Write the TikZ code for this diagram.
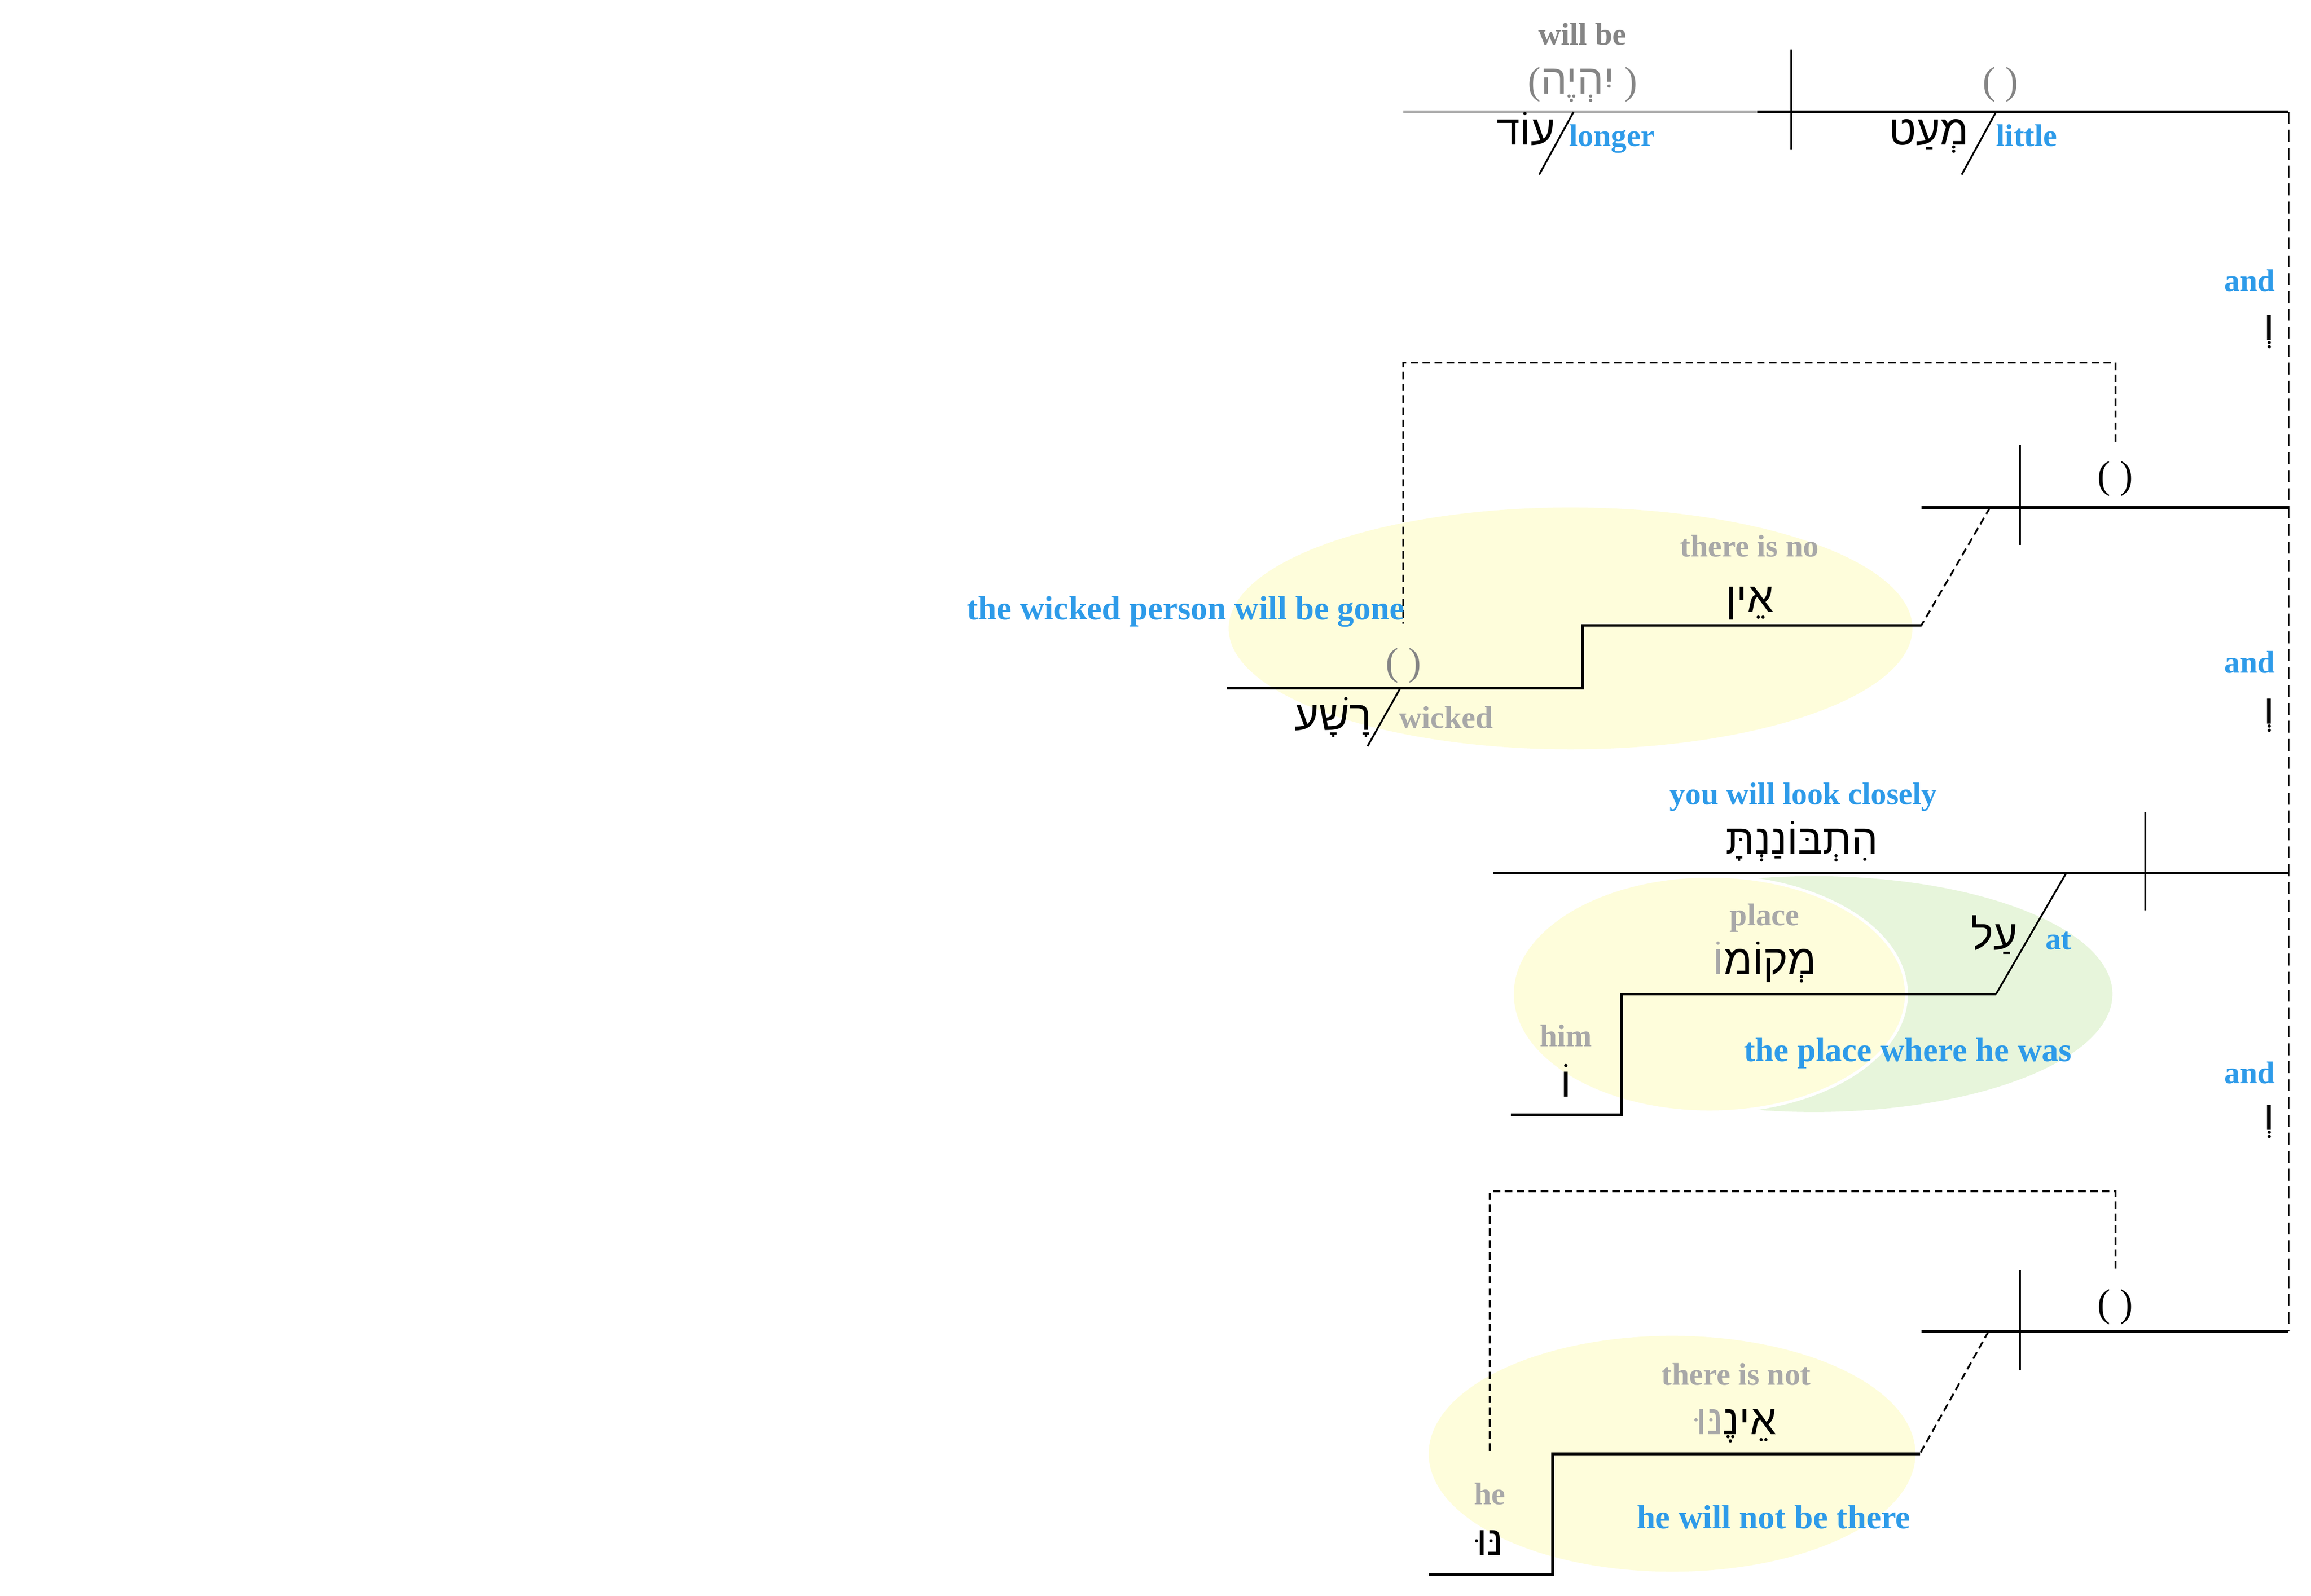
\documentclass[tikz,border=0pt]{standalone}
\usepackage{fontspec}
\setmainfont{Liberation Serif}
\newfontfamily\hebfont[Script=Hebrew]{Liberation Sans}
\TeXXeTstate=1
\usetikzlibrary{calc,positioning}

\definecolor{glossblue}{HTML}{2E9BE9}
\definecolor{hintgray}{HTML}{A8A8A8}
\definecolor{impgray}{HTML}{858585}
\definecolor{rulegray}{HTML}{AAAAAA}
\definecolor{noteyellow}{HTML}{FEFDDB}
\definecolor{notegreen}{HTML}{E7F5DB}

\newcommand{\hw}[1]{{\hebfont\beginR #1\endR}}
\newcommand{\pr}[1]{{\rmfamily\mdseries\fontsize{26}{30}\selectfont #1}}

\begin{document}
\begin{tikzpicture}[x=1pt, y=-1pt,
        mainline/.style={line width=1.8pt},
        divline/.style={line width=1.2pt},
        link/.style={line width=1.2pt, dash pattern=on 5pt off 3pt},
        andline/.style={line width=1.2pt, dash pattern=on 8pt off 4pt},
        heb/.style={inner sep=0pt, anchor=base, font=\hebfont\fontsize{28}{32}\selectfont},
        phrase/.style={inner sep=0pt, anchor=base, text=glossblue, font=\bfseries\fontsize{22.5}{26}\selectfont},
        gloss/.style={inner sep=0pt, anchor=base, text=glossblue, font=\bfseries\fontsize{21}{25}\selectfont},
        hint/.style={inner sep=0pt, anchor=base, text=hintgray, font=\bfseries\fontsize{21}{25}\selectfont},
        ]
        \useasboundingbox (0,0) rectangle (1548,1069.3);

        \fill[noteyellow] (1052,421) ellipse [x radius=229pt, y radius=81pt];
        \fill[notegreen] (1215,666) ellipse [x radius=200pt, y radius=79pt];
        \filldraw[fill=noteyellow, draw=white, line width=2pt] (1145,666) ellipse [x radius=132pt, y radius=79pt];
        \fill[noteyellow] (1120,974) ellipse [x radius=163pt, y radius=79pt];

        % first clause
        \coordinate (a1) at (940,75);
        \coordinate (a2) at (1177,75);
        \coordinate (a3) at (1533,75);
        \coordinate (a4) at (1200,33);
        \coordinate (a5) at (1200,100);
        \draw[mainline, rulegray] (a1) -- (a2);
        \draw[mainline] (a2) -- (a3);
        \draw[divline] (a4) -- (a5);
        \coordinate (od-t) at (1054,75);
        \coordinate (od-b) at (1031,117);
        \coordinate (meat-t) at (1337,75);
        \coordinate (meat-b) at (1314,117);
        \draw[divline] (od-t) -- (od-b);
        \draw[divline] (meat-t) -- (meat-b);

        \node (willbe) [hint, text=impgray] at (1060,30) {will be};
        \node (yihyeh) [heb, text=impgray] at (1060,63) {\pr{(}\hw{יִהְיֶה}\pr{ )}};
        \node (empty1) [heb, text=impgray] at (1340,63) {\pr{( )}};
        \node (od) [heb] at (1022,97) {\hw{עוֹד}};
        \node (longer) [gloss, anchor=base west] at (1051,98) {longer};
        \node (meat) [heb] at (1292,97) {\hw{מְעַט}};
        \node (little) [gloss, anchor=base west] at (1337,98) {little};

        % conjunctions
        \coordinate (c1) at (1533,892);
        \draw[andline] (a3) -- (c1);
        \node (and1) [gloss] at (1507,195) {and};
        \node (ve1) [heb] at (1520,228) {\hw{וְ}};
        \node (and2) [gloss] at (1507,451) {and};
        \node (ve2) [heb] at (1520,485) {\hw{וְ}};
        \node (and3) [gloss] at (1507,726) {and};
        \node (ve3) [heb] at (1520,757) {\hw{וְ}};

        % second clause
        \coordinate (b1) at (1287,340);
        \coordinate (b2) at (1533,340);
        \coordinate (b3) at (1353,298);
        \coordinate (b4) at (1353,365);
        \draw[mainline] (b1) -- (b2);
        \draw[divline] (b3) -- (b4);
        \node (empty2) [heb] at (1417,327) {\pr{( )}};
        \coordinate (b5) at (1417,296);
        \coordinate (b6) at (1417,243);
        \coordinate (b7) at (940,418);
        \draw[link] (b5) -- (b6) -| (b7);
        \coordinate (b8) at (1333,340);
        \coordinate (b9) at (1287,419);
        \draw[link] (b8) -- (b9);
        \coordinate (b10) at (1060,419);
        \coordinate (b11) at (1060,461);
        \coordinate (b12) at (822,461);
        \draw[mainline] (b9) -- (b10) -- (b11) -- (b12);
        \coordinate (rasha-t) at (938,461);
        \coordinate (rasha-b) at (916,500);
        \draw[divline] (rasha-t) -- (rasha-b);

        \node (thereisno) [hint] at (1172,373) {there is no};
        \node (ein) [heb] at (1172,410) {\hw{אֵין}};
        \node (gone) [phrase, anchor=base east] at (941,415) {the wicked person will be gone};
        \node (empty3) [heb, text=impgray] at (940,452) {\pr{( )}};
        \node (rasha) [heb] at (893,489) {\hw{רָשָׁע}};
        \node (wicked) [hint, anchor=base west] at (937,488) {wicked};

        % third clause
        \coordinate (e1) at (1000,585);
        \coordinate (e2) at (1533,585);
        \coordinate (e3) at (1437,544);
        \coordinate (e4) at (1437,610);
        \draw[mainline] (e1) -- (e2);
        \draw[divline] (e3) -- (e4);
        \coordinate (e5) at (1384,585);
        \coordinate (e6) at (1337,666);
        \draw[divline] (e5) -- (e6);
        \coordinate (e7) at (1086,666);
        \coordinate (e8) at (1086,747);
        \coordinate (e9) at (1012,747);
        \draw[mainline] (e6) -- (e7) -- (e8) -- (e9);

        \node (lookclosely) [gloss] at (1208,539) {you will look closely};
        \node (hitbonanta) [heb] at (1207,572) {\hw{הִתְבּוֹנַנְתָּ}};
        \node (place) [hint] at (1182,620) {place};
        \node (meqomo) [heb] at (1182,653) {{\color{hintgray}\hw{וֹ}}\hw{מְקוֹמ}};
        \node (al) [heb] at (1336,636) {\hw{עַל}};
        \node (at) [gloss, anchor=base west] at (1370,636) {at};
        \node (him) [hint] at (1049,701) {him};
        \node (o) [heb] at (1049,735) {\hw{וֹ}};
        \node (wherehewas) [phrase] at (1278,711) {the place where he was};

        % fourth clause
        \coordinate (f1) at (1287,892);
        \coordinate (f2) at (1353,851);
        \coordinate (f3) at (1353,918);
        \draw[mainline] (f1) -- (c1);
        \draw[divline] (f2) -- (f3);
        \node (empty4) [heb] at (1417,882) {\pr{( )}};
        \coordinate (f4) at (1417,850);
        \coordinate (f5) at (1417,798);
        \coordinate (f6) at (998,974);
        \draw[link] (f4) -- (f5) -| (f6);
        \coordinate (f7) at (1332,892);
        \coordinate (f8) at (1286,974);
        \draw[link] (f7) -- (f8);
        \coordinate (f9) at (1040,974);
        \coordinate (f10) at (1040,1055);
        \coordinate (f11) at (957,1055);
        \draw[mainline] (f8) -- (f9) -- (f10) -- (f11);

        \node (thereisnot) [hint] at (1163,928) {there is not};
        \node (enennu) [heb] at (1163,961) {{\color{hintgray}\hw{נּוּ}}\hw{אֵינֶ}};
        \node (he) [hint] at (998,1008) {he};
        \node (nnu) [heb] at (998,1042) {\hw{נּוּ}};
        \node (notthere) [phrase] at (1188,1024) {he will not be there};
\end{tikzpicture}
\end{document}
